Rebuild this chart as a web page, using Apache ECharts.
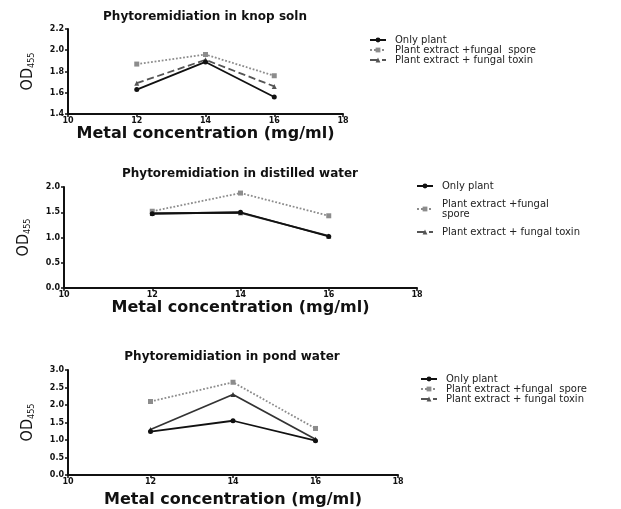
<!DOCTYPE html>
<html>
<head>
<meta charset="utf-8">
<title>Phytoremidiation</title>
<script src="https://cdn.jsdelivr.net/npm/echarts@6/dist/echarts.min.js"></script>
<style>html,body{margin:0;padding:0;background:#fff}</style>
</head>
<body>
<div id="main" style="width:621px;height:509px;"></div>
<script>
// shared x values and labels
var concentrations = [12, 14, 16];
var xTicks = [10, 12, 14, 16, 18];
var seriesNames = ['Only plant', 'Plant extract +fungal  spore', 'Plant extract + fungal toxin'];
var panelTitles = ['Phytoremidiation in knop soln', 'Phytoremidiation in distilled water', 'Phytoremidiation in pond water'];

// knop soln
var knopPlant = [1.63, 1.89, 1.56];
var knopSpore = [1.87, 1.96, 1.76];
var knopToxin = [1.69, 1.91, 1.66];
var knopTicks = [1.4, 1.6, 1.8, 2.0, 2.2];

// distilled water
var distPlant = [1.47, 1.50, 1.02];
var distSpore = [1.52, 1.88, 1.43];
var distToxin = [1.48, 1.49, 1.03];
var distTicks = [0.0, 0.5, 1.0, 1.5, 2.0];

// pond water
var pondPlant = [1.24, 1.55, 0.98];
var pondSpore = [2.10, 2.65, 1.33];
var pondToxin = [1.30, 2.30, 1.02];
var pondTicks = [0.0, 0.5, 1.0, 1.5, 2.0, 2.5, 3.0];

var panels = [
    {grid: {left: 68, top: 29, width: 275, height: 85}, ticks: knopTicks, data: [knopPlant, knopSpore, knopToxin],
     title: [205, 17], legend: {left: 364, top: 30, itemGap: 0, lineHeight: 9}, xGap: 12, yGap: 32},
    {grid: {left: 64, top: 187, width: 353, height: 101}, ticks: distTicks, data: [distPlant, distSpore, distToxin],
     title: [240, 174], legend: {left: 411, top: 176, itemGap: 8, lineHeight: 10}, xGap: 11, yGap: 32},
    {grid: {left: 68, top: 370, width: 330, height: 105}, ticks: pondTicks, data: [pondPlant, pondSpore, pondToxin],
     title: [232, 357], legend: {left: 415, top: 369, itemGap: 0, lineHeight: 8}, xGap: 17, yGap: 32}
];

var lineStyles = [
    {color: '#111', type: 'solid', symbol: 'circle'},
    {color: '#8c8c8c', type: 'dotted', symbol: 'rect'},
    {color: '#333', type: 'solid', symbol: 'triangle'}
];

var tickFont = {color: '#111', fontSize: 8, fontWeight: 'bold', fontFamily: 'DejaVu Sans'};

var option = {
    backgroundColor: '#fff',
    animation: false,
    grid: [], xAxis: [], yAxis: [], series: [], legend: [], graphic: []
};

panels.forEach(function (p, i) {
    option.grid.push(p.grid);
    option.graphic.push({
        type: 'text', x: p.title[0], y: p.title[1],
        style: {text: panelTitles[i], font: 'bold 12px "DejaVu Sans"', fill: '#111',
                textAlign: 'center', textVerticalAlign: 'middle', align: 'center', verticalAlign: 'middle'}
    });
    option.xAxis.push({
        type: 'value', gridIndex: i,
        min: xTicks[0], max: xTicks[xTicks.length - 1], interval: xTicks[1] - xTicks[0],
        name: 'Metal concentration (mg/ml)', nameLocation: 'middle', nameGap: p.xGap,
        nameTextStyle: {fontSize: 16, fontWeight: 'bold', fontFamily: 'DejaVu Sans', color: '#111'},
        axisLine: {lineStyle: {color: '#111', width: 2}},
        axisTick: {length: 3, lineStyle: {color: '#111', width: 1.5}},
        axisLabel: Object.assign({margin: 3}, tickFont),
        splitLine: {show: false}
    });
    option.yAxis.push({
        type: 'value', gridIndex: i,
        min: p.ticks[0], max: p.ticks[p.ticks.length - 1], interval: p.ticks[1] - p.ticks[0],
        name: '{a|OD}{b|455}', nameLocation: 'middle', nameGap: p.yGap,
        nameTextStyle: {color: '#111', rich: {
            a: {fontSize: 16, fontFamily: 'DejaVu Sans Condensed, Liberation Sans, sans-serif', color: '#111'},
            b: {fontSize: 9, fontFamily: 'DejaVu Sans Condensed, Liberation Sans, sans-serif', color: '#111', verticalAlign: 'bottom', padding: [6, 0, 0, 0]}
        }},
        axisLine: {show: true, lineStyle: {color: '#111', width: 2}},
        axisTick: {show: true, length: 3, lineStyle: {color: '#111', width: 1.5}},
        axisLabel: Object.assign({margin: 4, formatter: function (v) { return v.toFixed(1); }}, tickFont),
        splitLine: {show: false}
    });
    option.legend.push({
        data: seriesNames, orient: 'vertical', left: p.legend.left, top: p.legend.top,
        itemGap: p.legend.itemGap, itemWidth: 16, itemHeight: 6,
        textStyle: {fontSize: 10, lineHeight: p.legend.lineHeight, fontFamily: 'DejaVu Sans', color: '#222', padding: [0, 0, 0, 4]},
        formatter: i === 1 ? function (n) { return n.replace('+fungal  spore', '+fungal\nspore'); } : undefined
    });
    p.data.forEach(function (vals, k) {
        var st = lineStyles[k];
        var lineType = (i === 0 && k === 2) ? 'dashed' : st.type;
        var lineColor = (i === 0 && k === 2) ? '#555' : st.color;
        option.series.push({
            name: seriesNames[k], type: 'line', xAxisIndex: i, yAxisIndex: i,
            data: concentrations.map(function (c, j) { return [c, vals[j]]; }),
            symbol: st.symbol, symbolSize: 5,
            lineStyle: {color: lineColor, type: lineType, width: 1.8},
            itemStyle: {color: lineColor},
            z: 3 - k
        });
    });
});

var myChart = echarts.init(document.getElementById('main'));
myChart.setOption(option);
</script>
</body>
</html>
